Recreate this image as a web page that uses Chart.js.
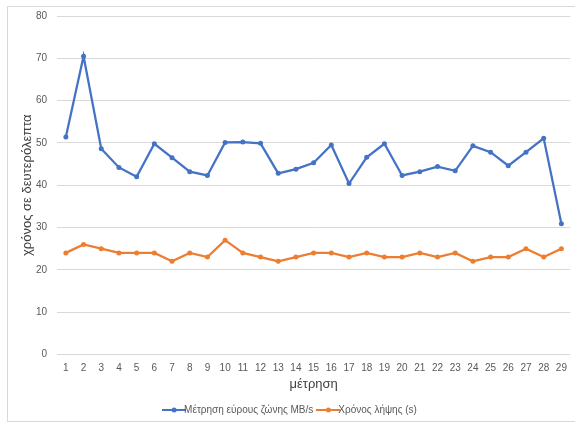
<!DOCTYPE html>
<html>
<head>
<meta charset="utf-8">
<script src="https://cdn.jsdelivr.net/npm/chart.js@4/dist/chart.umd.min.js"></script>
<style>
  html, body { margin: 0; padding: 0; background: #fff; }
  #wrap { position: relative; width: 575px; height: 425px; }
  #frame { position: absolute; left: 7px; top: 6px; width: 580px; height: 416px; border: 1px solid #d9d9d9; box-sizing: border-box; }
  canvas { position: absolute; left: 0; top: 0; }
</style>
</head>
<body>
<div id="wrap">
  <div id="frame"></div>
  <canvas id="chart" width="575" height="425"></canvas>
</div>
<script>
/*=================================
      data
=================================*/
const measurements = [
  "1", "2", "3", "4", "5", "6", "7", "8", "9", "10",
  "11", "12", "13", "14", "15", "16", "17", "18", "19", "20",
  "21", "22", "23", "24", "25", "26", "27", "28", "29",
];
const bandwidth = [
  51.4, 70.5, 48.6, 44.2, 42.0, 49.8, 46.5, 43.2, 42.3, 50.1,
  50.2, 49.9, 42.8, 43.8, 45.3, 49.5, 40.4, 46.6, 49.8, 42.3,
  43.2, 44.4, 43.4, 49.3, 47.8, 44.6, 47.8, 51.1, 30.9,
];
const downloadTime = [
  24, 26, 25, 24, 24, 24, 22, 24, 23, 27,
  24, 23, 22, 23, 24, 24, 23, 24, 23, 23,
  24, 23, 24, 22, 23, 23, 25, 23, 25,
];
const seriesNames = ["Μέτρηση εύρους ζώνης MB/s", "Χρόνος λήψης (s)"];
const yTicks = [0, 10, 20, 30, 40, 50, 60, 70, 80];

const BLUE = "#4472C4";
const ORANGE = "#ED7D31";
const FONT = "'Liberation Sans', 'DejaVu Sans', sans-serif";

/*=================================
      legend marker (line + dot)
=================================*/
function legendMarker(color) {
  const c = document.createElement("canvas");
  c.width = 24;
  c.height = 8;
  const ctx = c.getContext("2d");
  ctx.strokeStyle = color;
  ctx.lineWidth = 2;
  ctx.beginPath();
  ctx.moveTo(0, 4);
  ctx.lineTo(24, 4);
  ctx.stroke();
  ctx.fillStyle = color;
  ctx.beginPath();
  ctx.arc(12, 4, 2.5, 0, Math.PI * 2);
  ctx.fill();
  return c;
}

function lineSet(label, values, color) {
  return {
    label: label,
    data: values,
    borderColor: color,
    backgroundColor: color,
    borderWidth: 2.25,
    pointRadius: 2.5,
    pointHoverRadius: 3,
    pointBorderWidth: 0,
    tension: 0,
    markerImg: legendMarker(color),
  };
}

var data = {
  labels: measurements,
  datasets: [
    lineSet(seriesNames[0], bandwidth, BLUE),
    lineSet(seriesNames[1], downloadTime, ORANGE),
  ],
};

var options = {
  responsive: false,
  animation: false,
  layout: { padding: { top: 10, left: 12, right: 1, bottom: 0 } },
  scales: {
    y: {
      min: yTicks[0],
      max: yTicks[yTicks.length - 1],
      afterBuildTicks: (scale) => {
        scale.ticks = yTicks.map((v) => ({ value: v }));
      },
      afterFit: (scale) => {
        scale.width = 45;
      },
      border: { display: false },
      grid: { color: "#d9d9d9", lineWidth: 1, drawTicks: false },
      ticks: { color: "#595959", padding: 10, font: { family: FONT, size: 10 } },
      title: {
        display: true,
        text: "χρόνος σε δευτερόλεπτα",
        color: "#404040",
        padding: { top: 8, bottom: 0 },
        font: { family: FONT, size: 13 },
      },
    },
    x: {
      offset: true,
      border: { display: false },
      grid: { display: false, drawTicks: false },
      ticks: { color: "#595959", padding: 8, maxRotation: 0, autoSkip: false, font: { family: FONT, size: 10 } },
      title: {
        display: true,
        text: "μέτρηση",
        color: "#404040",
        padding: { top: -6, bottom: 3 },
        font: { family: FONT, size: 13 },
      },
    },
  },
  plugins: {
    tooltip: { enabled: false },
    legend: {
      position: "bottom",
      labels: {
        color: "#595959",
        font: { family: FONT, size: 10 },
        usePointStyle: true,
        padding: 10,
        generateLabels: (chart) =>
          chart.data.datasets.map((ds, i) => ({
            text: ds.label,
            fontColor: "#595959",
            pointStyle: ds.markerImg,
            datasetIndex: i,
            hidden: false,
            lineWidth: 0,
          })),
      },
    },
  },
};

new Chart("chart", {
  type: "line",
  options: options,
  data: data,
});
</script>
</body>
</html>
